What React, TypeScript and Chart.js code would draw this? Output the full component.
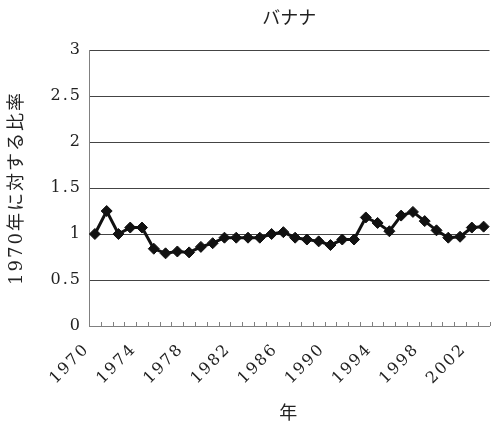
import React, { useEffect, useRef } from "react";
import { Chart, registerables } from "chart.js";

Chart.register(...registerables);

// Years on the category axis (one point per year)
const years = [
  "1970", "1971", "1972", "1973", "1974", "1975", "1976", "1977", "1978", "1979",
  "1980", "1981", "1982", "1983", "1984", "1985", "1986", "1987", "1988", "1989",
  "1990", "1991", "1992", "1993", "1994", "1995", "1996", "1997", "1998", "1999",
  "2000", "2001", "2002", "2003",
];

// Banana ratio relative to the 1970 level
const ratios = [
  1.0, 1.25, 1.0, 1.07, 1.07, 0.84, 0.79, 0.81, 0.8, 0.86,
  0.9, 0.96, 0.96, 0.96, 0.96, 1.0, 1.02, 0.96, 0.94, 0.92,
  0.88, 0.94, 0.94, 1.18, 1.12, 1.03, 1.2, 1.24, 1.14, 1.04,
  0.96, 0.97, 1.07, 1.08,
];

const yMin = 0;
const yMax = 3;
const yStep = 0.5;
const labelEvery = 4;

const chartTitle = "バナナ";
const yAxisTitle = "1970年に対する比率";
const xAxisTitle = "年";

const FONT = "'DejaVu Serif', 'Noto Sans CJK JP', serif";
const TEXT = "#222";
const GRID = "#444";
const AXIS = "#808080";

const W = 496;
const H = 427;

// Spaced-out glyphs for axis text, title drawn centred over the plot area,
// and short tick marks that point up into the plot between categories.
const decorations = {
  id: "decorations",
  beforeDraw(chart: any) {
    (chart.ctx as any).letterSpacing = "2px";
  },
  afterDraw(chart: any) {
    const { ctx, chartArea } = chart;
    const xs = chart.scales.x;
    const step = xs.getPixelForValue(1) - xs.getPixelForValue(0);
    ctx.save();
    ctx.strokeStyle = AXIS;
    ctx.lineWidth = 1;
    ctx.beginPath();
    for (let i = 0; i <= years.length; i++) {
      const x = Math.round(xs.getPixelForValue(i) - step / 2) + 0.5;
      ctx.moveTo(x, chartArea.bottom);
      ctx.lineTo(x, chartArea.bottom - 4);
    }
    ctx.stroke();

    (ctx as any).letterSpacing = "0px";
    ctx.fillStyle = TEXT;
    ctx.font = "18px 'Noto Sans CJK JP', sans-serif";
    ctx.textAlign = "center";
    ctx.textBaseline = "middle";
    ctx.fillText(chartTitle, (chartArea.left + chartArea.right) / 2, 17);
    ctx.restore();
  },
};

export default function App() {
  const ref = useRef<HTMLCanvasElement | null>(null);

  useEffect(() => {
    if (!ref.current) return;
    const chart = new Chart(ref.current, {
      type: "line",
      data: {
        labels: years,
        datasets: [
          {
            data: ratios,
            borderColor: "#111",
            backgroundColor: "#111",
            borderWidth: 3,
            tension: 0,
            pointStyle: "rectRot",
            pointRadius: 5.5,
            pointBorderWidth: 1,
            pointBackgroundColor: "#111",
            pointBorderColor: "#111",
          },
        ],
      },
      options: {
        animation: false,
        responsive: false,
        events: [],
        layout: { padding: { top: 50, right: 1, left: 0, bottom: 0 } },
        plugins: {
          legend: { display: false },
          title: { display: false },
          tooltip: { enabled: false },
        },
        scales: {
          x: {
            type: "category",
            offset: true,
            grid: { display: true, offset: true, drawOnChartArea: false, drawTicks: false },
            border: { display: true, color: AXIS, width: 1 },
            ticks: {
              autoSkip: false,
              maxRotation: 45,
              minRotation: 45,
              padding: 14,
              labelOffset: -8,
              color: TEXT,
              font: { family: FONT, size: 16 },
              callback: (_v: any, i: number) => (i % labelEvery === 0 ? years[i] : ""),
            },
            title: {
              display: true,
              text: xAxisTitle,
              color: TEXT,
              font: { family: FONT, size: 18 },
              padding: { top: 4, bottom: 2 },
            },
            afterFit: (s: any) => {
              s.height = H - 326;
              s.paddingLeft = 0;
              s.paddingRight = 0;
            },
          },
          y: {
            min: yMin,
            max: yMax,
            grid: { color: GRID, lineWidth: 1, drawTicks: false },
            border: { display: true, color: AXIS, width: 1 },
            ticks: {
              stepSize: yStep,
              padding: 7,
              color: TEXT,
              font: { family: FONT, size: 16 },
              callback: (v: any) => String(Number(v)),
            },
            title: {
              display: true,
              text: yAxisTitle,
              color: TEXT,
              font: { family: FONT, size: 18 },
              padding: { top: 7, bottom: 4 },
            },
            afterFit: (s: any) => {
              s.width = 89;
            },
          },
        },
      },
      plugins: [decorations],
    } as any);
    return () => chart.destroy();
  }, []);

  return (
    <div
      style={{
        position: "absolute",
        left: 0,
        top: 0,
        width: 491,
        height: H,
        overflow: "hidden",
        background: "#fff",
      }}
    >
      <canvas ref={ref} width={W} height={H} style={{ display: "block" }} />
    </div>
  );
}
